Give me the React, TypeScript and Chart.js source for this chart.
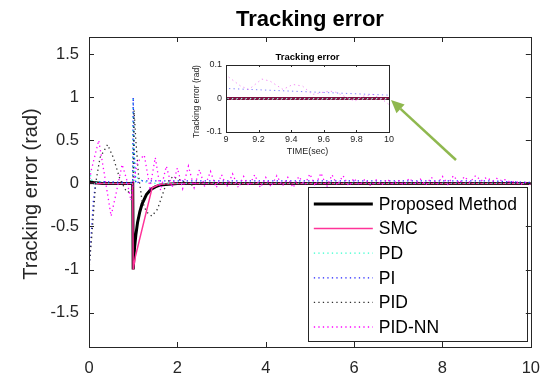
import React, { useEffect, useRef } from "react";
import { Chart, registerables } from "chart.js";
Chart.register(...registerables);

const FONT = "'Liberation Sans', Arial, Helvetica, sans-serif";

// ---- text ----
const chartTitle = "Tracking error";
const yAxisTitle = "Tracking error (rad)";
const insetTitle = "Tracking error";
const insetYTitle = "Tracking error (rad)";
const insetXTitle = "TIME(sec)";
const seriesNames = ["Proposed Method", "SMC", "PD", "PI", "PID", "PID-NN"];

// ---- axes ----
const xMin = 0;
const xMax = 10;
const yMin = -1.9;
const yMax = 1.7;
const xTicks = [0, 2, 4, 6, 8, 10];
const yTicks = [-1.5, -1, -0.5, 0, 0.5, 1, 1.5];
const insetXMin = 9;
const insetXMax = 10;
const insetYMin = -0.1;
const insetYMax = 0.1;
const insetXTicks = [9, 9.2, 9.4, 9.6, 9.8, 10];
const insetYTicks = [-0.1, 0, 0.1];

// ---- series (time in s, error in rad) ----
const proposedT = [0, 0.1, 0.3, 0.99, 1.0, 1.03, 1.06, 1.1, 1.15, 1.2, 1.3, 1.4, 1.5, 1.6, 1.8, 2.0, 10];
const proposedV = [0.02, 0.01, 0, 0, -1.0, -0.75, -0.6, -0.45, -0.33, -0.24, -0.13, -0.07, -0.04, -0.02, -0.01, 0, 0];

const smcT = [0, 0.99, 1.0, 1.05, 1.43, 1.6, 2.0, 10];
const smcV = [0, 0, -1.0, -0.85, -0.05, -0.01, 0, 0];

const pdT = [0, 0.05, 0.12, 0.2, 0.35, 0.99, 1.0, 1.04, 1.1, 1.25, 1.5, 10];
const pdV = [0.2, 0.05, -0.02, 0.03, 0.0, 0.0, 1.0, 0.0, 0.06, 0.02, 0.0, 0.0];

const piT = [0, 0.05, 0.1, 0.15, 0.3, 0.99, 1.0, 1.03, 1.06, 1.2, 3, 9, 10];
const piV = [-1.0, -0.6, -0.2, 0.0, 0.02, 0.01, 1.0, 0.3, 0.0, 0.03, 0.03, 0.03, 0.01];

const pidT = [0, 0.08, 0.15, 0.25, 0.42, 0.55, 0.7, 0.85, 0.95, 1.0, 1.02, 1.06, 1.12, 1.2, 1.3, 1.42, 1.55, 1.65, 1.75, 1.9, 2.1, 2.3, 2.6, 9, 10];
const pidV = [-1.0, -0.5, 0.0, 0.3, 0.45, 0.3, 0.05, -0.1, -0.1, 0.0, 0.85, 0.5, 0.1, -0.2, -0.33, -0.38, -0.3, -0.15, 0.0, 0.08, 0.03, -0.02, 0.0, -0.003, -0.003];

const pidnnT = [
  0, 0.05, 0.22, 0.35, 0.5, 0.62, 0.75, 0.85, 0.95, 1.0, 1.1, 1.25, 1.38, 1.5, 1.62, 1.75, 1.88, 2.0, 2.12, 2.25, 2.38, 2.5, 2.62, 2.75, 2.88,
  3.0, 3.12, 3.25, 3.38, 3.5, 3.62, 3.75, 3.88, 4.0, 4.12, 4.25, 4.38, 4.5, 4.62, 4.75, 4.88,
  5.0, 5.12, 5.25, 5.38, 5.5, 5.62, 5.75, 5.88, 6.0, 6.12, 6.25, 6.38, 6.5, 6.62, 6.75, 6.88,
  7.0, 7.12, 7.25, 7.38, 7.5, 7.62, 7.75, 7.88, 8.0, 8.12, 8.25, 8.38, 8.5, 8.62, 8.75, 8.88,
  9.0, 9.09, 9.14, 9.22, 9.27, 9.35, 9.41, 9.47, 9.53, 9.6, 9.64, 9.68, 9.74, 9.79, 9.84, 9.9, 9.96, 10,
];
const pidnnV = [
  0, 0.15, 0.5, 0.1, -0.38, -0.1, 0.22, 0.05, -0.2, 0.0, 0.25, 0.33, -0.05, 0.3, -0.08, 0.2, -0.05, 0.18, -0.06, 0.2, -0.05, 0.16, -0.04, 0.14, -0.05,
  0.1, -0.04, 0.11, -0.05, 0.08, -0.03, 0.1, -0.05, 0.07, -0.04, 0.09, -0.03, 0.07, -0.05, 0.08, -0.02,
  0.11, -0.03, 0.12, -0.04, 0.1, -0.02, 0.09, -0.03, 0.06, -0.02, 0.05, -0.03, 0.04, -0.02, 0.05, -0.01,
  0.04, -0.02, 0.06, -0.01, 0.05, -0.02, 0.07, -0.01, 0.08, -0.01, 0.09, 0.0, 0.08, 0.01, 0.09, 0.03,
  0.07, 0.037, 0.027, 0.058, 0.052, 0.027, 0.042, 0.037, 0.012, 0.019, 0.022, 0.018, 0.003, -0.008, 0.007, 0.012, -0.003, -0.018,
];

const seriesT = [proposedT, smcT, pdT, piT, pidT, pidnnT];
const seriesV = [proposedV, smcV, pdV, piV, pidV, pidnnV];

// ---- styles ----
const mainColors = ["#000000", "#ff3399", "#33ffcc", "#1f1fff", "#303030", "#ff00ff"];
const insetColors = ["#7a1040", "#8a1848", "#99ffe6", "#8080ff", "#a0a0a0", "#f58cf5"];
const widths = [3, 1.5, 1.3, 1.3, 1.3, 1.3];
const dashes: number[][] = [[], [], [1.3, 3.2], [1.3, 3.2], [1.3, 3.2], [1.3, 3.2]];
const insetWidths = [3, 1.2, 1, 1, 1, 1];

const toPoints = (i: number) => seriesT[i].map((t, k) => ({ x: t, y: seriesV[i][k] }));

const fmt = (v: number) => String(Math.round(v * 10) / 10);

function drawTicks(chart: any, len: number, color: string, lw: number) {
  const { ctx, chartArea: a, scales } = chart;
  ctx.save();
  ctx.strokeStyle = color;
  ctx.lineWidth = lw;
  ctx.beginPath();
  scales.x.ticks.forEach((t: any) => {
    const px = Math.round(scales.x.getPixelForValue(t.value)) + 0.5;
    ctx.moveTo(px, a.bottom);
    ctx.lineTo(px, a.bottom - len);
    ctx.moveTo(px, a.top);
    ctx.lineTo(px, a.top + len);
  });
  scales.y.ticks.forEach((t: any) => {
    const py = Math.round(scales.y.getPixelForValue(t.value)) + 0.5;
    ctx.moveTo(a.left, py);
    ctx.lineTo(a.left + len, py);
    ctx.moveTo(a.right, py);
    ctx.lineTo(a.right - len, py);
  });
  ctx.stroke();
  ctx.strokeRect(Math.round(a.left) + 0.5, Math.round(a.top) + 0.5, Math.round(a.right - a.left), Math.round(a.bottom - a.top));
  ctx.restore();
}

const mainDecor = {
  id: "mainDecor",
  beforeDraw(chart: any) {
    const { ctx, width, height } = chart;
    ctx.save();
    ctx.fillStyle = "#ffffff";
    ctx.fillRect(0, 0, width, height);
    ctx.restore();
  },
  afterDatasetsDraw(chart: any) {
    const { ctx, chartArea: a } = chart;
    // legend box
    const L = a.right - 223, R = a.right - 4, T = a.bottom - 160, B = a.bottom - 6;
    ctx.save();
    ctx.fillStyle = "#ffffff";
    ctx.fillRect(L, T, R - L, B - T);
    ctx.strokeStyle = "#262626";
    ctx.lineWidth = 1;
    ctx.strokeRect(Math.round(L) + 0.5, Math.round(T) + 0.5, Math.round(R - L), Math.round(B - T));
    chart.data.datasets.forEach((ds: any, i: number) => {
      const y = T + 17 + i * 24.6;
      ctx.beginPath();
      ctx.setLineDash(ds.borderDash || []);
      ctx.strokeStyle = ds.borderColor;
      ctx.lineWidth = ds.borderWidth;
      ctx.moveTo(L + 6, y);
      ctx.lineTo(L + 65, y);
      ctx.stroke();
      ctx.setLineDash([]);
      ctx.fillStyle = "#000000";
      ctx.font = `17.5px ${FONT}`;
      ctx.textBaseline = "middle";
      ctx.textAlign = "left";
      ctx.fillText(ds.label, L + 71, y + 1);
    });
    ctx.restore();

    drawTicks(chart, 5, "#262626", 1);

    // titles
    ctx.save();
    ctx.fillStyle = "#000000";
    ctx.font = `bold 22px ${FONT}`;
    ctx.textAlign = "center";
    ctx.textBaseline = "middle";
    ctx.fillText(chartTitle, (a.left + a.right) / 2, 20);
    ctx.translate(31, (a.top + a.bottom) / 2 + 2);
    ctx.rotate(-Math.PI / 2);
    ctx.font = `20px ${FONT}`;
    ctx.fillStyle = "#262626";
    ctx.fillText(yAxisTitle, 0, 0);
    ctx.restore();

    // arrow
    ctx.save();
    const x0 = 456, y0 = 160, x1 = 391, y1 = 100;
    const ang = Math.atan2(y1 - y0, x1 - x0);
    const hl = 13, hw = 6;
    const bx = x1 - hl * Math.cos(ang), by = y1 - hl * Math.sin(ang);
    ctx.strokeStyle = "#8fb84f";
    ctx.fillStyle = "#8fb84f";
    ctx.lineWidth = 2.5;
    ctx.beginPath();
    ctx.moveTo(x0, y0);
    ctx.lineTo(bx, by);
    ctx.stroke();
    ctx.beginPath();
    ctx.moveTo(x1, y1);
    ctx.lineTo(bx + hw * Math.sin(ang), by - hw * Math.cos(ang));
    ctx.lineTo(bx - hw * Math.sin(ang), by + hw * Math.cos(ang));
    ctx.closePath();
    ctx.fill();
    ctx.restore();
  },
};

const insetDecor = {
  id: "insetDecor",
  beforeDraw(chart: any) {
    const { ctx, chartArea: a } = chart;
    ctx.save();
    ctx.fillStyle = "#ffffff";
    ctx.fillRect(a.left, a.top, a.right - a.left, a.bottom - a.top);
    ctx.restore();
  },
  afterDatasetsDraw(chart: any) {
    const { ctx, chartArea: a } = chart;
    drawTicks(chart, 2, "#262626", 1);
    ctx.save();
    ctx.fillStyle = "#000000";
    ctx.textAlign = "center";
    ctx.textBaseline = "middle";
    ctx.font = `bold 9.5px ${FONT}`;
    ctx.fillText(insetTitle, (a.left + a.right) / 2, a.top - 8);
    ctx.fillStyle = "#262626";
    ctx.font = `9px ${FONT}`;
    ctx.fillText(insetXTitle, (a.left + a.right) / 2, a.bottom + 20);
    ctx.translate(a.left - 29, (a.top + a.bottom) / 2 + 3);
    ctx.rotate(-Math.PI / 2);
    ctx.font = `8.5px ${FONT}`;
    ctx.fillText(insetYTitle, 0, 0);
    ctx.restore();
  },
};

function buildDatasets(colors: string[], lw: number[]) {
  return seriesNames.map((name, i) => ({
    label: name,
    data: toPoints(i),
    borderColor: colors[i],
    backgroundColor: colors[i],
    borderWidth: lw[i],
    borderDash: dashes[i],
    pointRadius: 0,
    tension: 0,
    fill: false,
    order: seriesNames.length - i,
  }));
}

function scaleOpts(min: number, max: number, ticks: number[], fontSize: number, pad: number, fit: (s: any) => void) {
  return {
    type: "linear" as const,
    min,
    max,
    afterBuildTicks: (s: any) => {
      s.ticks = ticks.map((v) => ({ value: v }));
    },
    afterFit: fit,
    grid: { display: false, drawTicks: false },
    border: { display: false },
    ticks: {
      color: "#262626",
      font: { family: FONT, size: fontSize },
      padding: pad,
      maxRotation: 0,
      autoSkip: false,
      callback: (v: any) => fmt(Number(v)),
    },
  };
}

export default function App() {
  const mainRef = useRef<HTMLCanvasElement>(null);
  const insetRef = useRef<HTMLCanvasElement>(null);

  useEffect(() => {
    const main = new Chart(mainRef.current as HTMLCanvasElement, {
      type: "line",
      data: { datasets: buildDatasets(mainColors, widths) as any },
      options: {
        animation: false,
        responsive: false,
        devicePixelRatio: 1,
        layout: { padding: { top: 37, right: 20, left: 0, bottom: 0 } },
        plugins: { legend: { display: false }, tooltip: { enabled: false }, title: { display: false } },
        scales: {
          x: scaleOpts(xMin, xMax, xTicks, 16.5, 12, (s: any) => { s.height = 31; }),
          y: scaleOpts(yMin, yMax, yTicks, 16.5, 10, (s: any) => { s.width = 89; }),
        } as any,
      },
      plugins: [mainDecor],
    });
    const inset = new Chart(insetRef.current as HTMLCanvasElement, {
      type: "line",
      data: { datasets: buildDatasets(insetColors, insetWidths) as any },
      options: {
        animation: false,
        responsive: false,
        devicePixelRatio: 1,
        layout: { padding: { top: 21, right: 11, left: 0, bottom: 0 } },
        plugins: { legend: { display: false }, tooltip: { enabled: false }, title: { display: false } },
        scales: {
          x: scaleOpts(insetXMin, insetXMax, insetXTicks, 9, 2, (s: any) => { s.height = 30; }),
          y: scaleOpts(insetYMin, insetYMax, insetYTicks, 9, 4, (s: any) => { s.width = 46; }),
        } as any,
      },
      plugins: [insetDecor],
    });
    return () => {
      main.destroy();
      inset.destroy();
    };
  }, []);

  return (
    <div style={{ position: "absolute", left: 0, top: 0, width: 552, height: 378, background: "#fff" }}>
      <canvas ref={mainRef} width={552} height={378} style={{ position: "absolute", left: 0, top: 0, width: 552, height: 378 }} />
      <canvas ref={insetRef} width={220} height={118} style={{ position: "absolute", left: 180, top: 44, width: 220, height: 118 }} />
    </div>
  );
}
